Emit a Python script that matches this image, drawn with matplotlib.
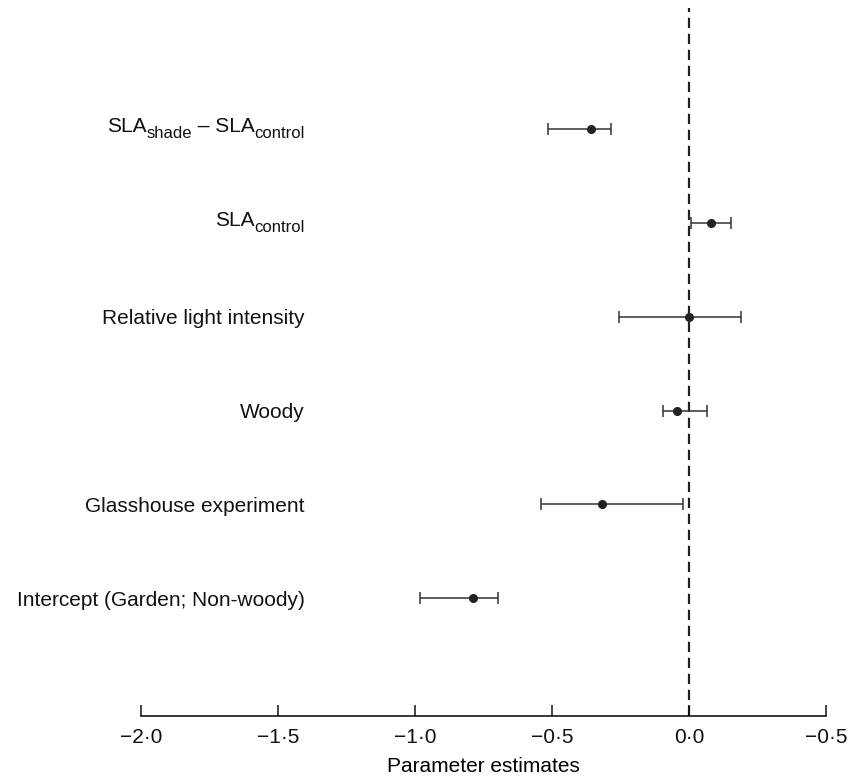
import matplotlib
matplotlib.use("Agg")
import matplotlib.pyplot as plt
import matplotlib.transforms as mtransforms

plt.rcParams['font.family'] = ['Liberation Sans', 'DejaVu Sans']

# rows from top to bottom; each label is a list of (text, is_subscript)
labels = [[('SLA', False), ('shade', True), (' – SLA', False), ('control', True)],
          [('SLA', False), ('control', True)],
          [('Relative light intensity', False)],
          [('Woody', False)],
          [('Glasshouse experiment', False)],
          [('Intercept (Garden; Non-woody)', False)]]
estimates = [-0.359, 0.080, -0.002, -0.046, -0.317, -0.789]
lower = [-0.515, 0.007, -0.255, -0.095, -0.543, -0.983]
upper = [-0.287, 0.151, 0.189, 0.065, -0.022, -0.697]

xticks = [-2.0, -1.5, -1.0, -0.5, 0.0, 0.5]
xticklabels = ['−2·0', '−1·5', '−1·0', '−0·5', '0·0', '−0·5']

fig = plt.figure(figsize=(8.48, 7.8), dpi=100)
ax = fig.add_axes([0.1666, 0.0821, 0.8078, 0.9077])

n = len(labels)
ypos = [n - i for i in range(n)]
err_lo = [e - l for e, l in zip(estimates, lower)]
err_hi = [u - e for e, u in zip(estimates, upper)]

ax.axvline(0, color='#222222', lw=1.6, linestyle=(0, (4.6, 2.6)), zorder=1)
ax.errorbar(estimates, ypos, xerr=[err_lo, err_hi], fmt='o', color='#222222',
            ecolor='#333333', elinewidth=1.1, capsize=4, capthick=1.1,
            markersize=5.5, zorder=3)

ax.set_xlim(-2.0, 0.5)
ax.set_ylim(-0.255, 7.29)

# row labels, drawn right to left so subscripts can be sized freely
renderer = fig.canvas.get_renderer()
base = mtransforms.blended_transform_factory(ax.transAxes, ax.transData)
fs = 15
for y, parts in zip(ypos, labels):
    has_sub = any(s for _, s in parts)
    shift_x = 0.0
    for txt, sub in reversed(parts):
        dy = -5.5 if sub else 0.0
        if has_sub:
            dy += 3.0
        tr = base + mtransforms.ScaledTranslation(-shift_x / 72, dy / 72,
                                                  fig.dpi_scale_trans)
        t = ax.text(0.239, y, txt, transform=tr, ha='right', va='center_baseline',
                    fontsize=fs * 0.8 if sub else fs, color='#111111')
        w = t.get_window_extent(renderer).width
        shift_x += w * 72 / fig.dpi

ax.set_xticks(xticks)
ax.set_xticklabels(xticklabels, fontsize=15)
ax.tick_params(axis='x', direction='in', length=8, width=1.1, pad=9,
               colors='#111111')
ax.set_yticks([])
for side in ['top', 'right', 'left']:
    ax.spines[side].set_visible(False)
ax.spines['bottom'].set_linewidth(1.1)
ax.set_xlabel('Parameter estimates', fontsize=15, labelpad=7)

fig.savefig('out.png', dpi=100)
